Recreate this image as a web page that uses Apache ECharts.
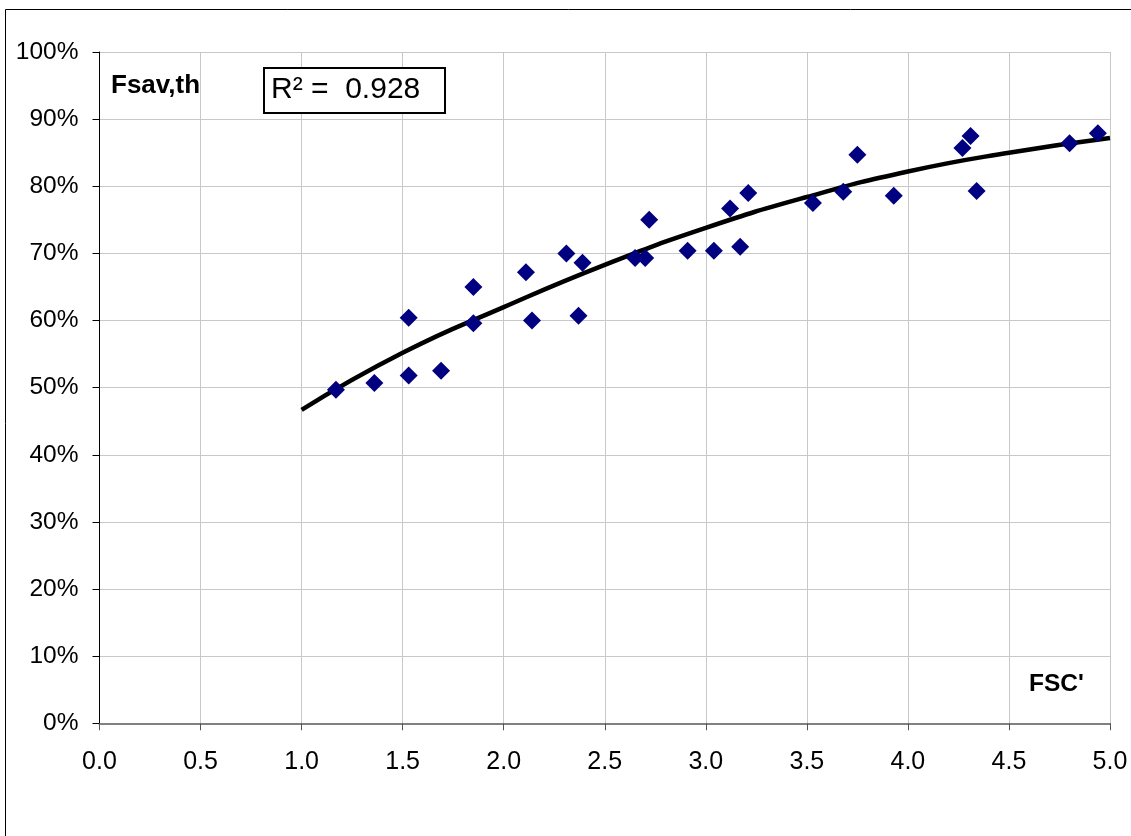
<!DOCTYPE html>
<html>
<head>
<meta charset="utf-8">
<script src="https://cdn.jsdelivr.net/npm/echarts@6/dist/echarts.min.js"></script>
<style>
html,body{margin:0;padding:0;background:#fff;}
#chart{width:1131px;height:836px;}
</style>
</head>
<body>
<div id="chart"></div>
<script>
// Observed data points (FSC', Fsav,th in %)
const fscValues = [1.17,1.36,1.53,1.53,1.69,1.85,1.85,2.11,2.14,2.31,2.37,2.39,2.65,2.70,2.72,2.91,3.04,3.12,3.17,3.21,3.53,3.68,3.75,3.93,4.27,4.31,4.34,4.80,4.94];
const fsavValues = [49.7,50.7,60.4,51.8,52.5,65.0,59.6,67.2,60.0,70.0,60.7,68.6,69.3,69.3,75.0,70.4,70.4,76.7,71.0,79.0,77.5,79.2,84.7,78.6,85.7,87.5,79.3,86.4,87.9];
// Trend line
const trendX = [1.0,1.5,2.0,2.5,3.0,3.5,4.0,4.5,5.0];
const trendY = [46.7,55.2,62.0,68.3,73.8,78.4,82.2,85.0,87.2];
const yAxisLabel = 'Fsav,th';
const xAxisLabel = "FSC'";
const r2Text = 'R\u00B2 =  0.928';

const FONT = '"Liberation Sans", Arial, sans-serif';
const chart = echarts.init(document.getElementById('chart'), null, {renderer:'canvas'});

chart.setOption({
  animation: false,
  backgroundColor: '#fff',
  grid: {left: 99.5, right: 21, top: 52, bottom: 112.7, containLabel: false},
  xAxis: {
    type: 'value', min: 0, max: 5, interval: 0.5,
    axisLine: {show: true, onZero: false, lineStyle: {color: '#808080', width: 2}},
    axisTick: {show: true, length: 7, lineStyle: {color: '#555', width: 1}},
    axisLabel: {color: '#000', fontFamily: FONT, fontSize: 25, margin: 26,
      formatter: v => v.toFixed(1)},
    splitLine: {show: true, lineStyle: {color: '#c8c8c8', width: 1}}
  },
  yAxis: {
    type: 'value', min: 0, max: 100, interval: 10,
    axisLine: {show: true, onZero: false, lineStyle: {color: '#000', width: 1}},
    axisTick: {show: true, length: 7, lineStyle: {color: '#000', width: 1}},
    axisLabel: {color: '#000', fontFamily: FONT, fontSize: 24.5, margin: 21,
      formatter: v => v + '%'},
    splitLine: {show: true, lineStyle: {color: '#c8c8c8', width: 1}}
  },
  series: [
    {
      type: 'line',
      data: trendX.map((x, i) => [x, trendY[i]]),
      smooth: true,
      showSymbol: false,
      lineStyle: {color: '#000', width: 4.5},
      z: 2
    },
    {
      type: 'scatter',
      data: fscValues.map((x, i) => [x, fsavValues[i]]),
      symbol: 'diamond',
      symbolSize: 18,
      itemStyle: {color: '#000080', opacity: 1},
      emphasis: {disabled: true},
      z: 3
    }
  ],
  graphic: [
    {type: 'rect', shape: {x: 5.5, y: 9.5, width: 1300, height: 1000},
     style: {fill: 'none', stroke: '#000', lineWidth: 1}, silent: true, z: 0},
    {type: 'text', left: 111, top: 73,
     style: {text: yAxisLabel, font: 'bold 26px ' + FONT, fill: '#000'}, z: 10},
    {type: 'text', left: 1029, top: 672,
     style: {text: xAxisLabel, font: 'bold 24.5px ' + FONT, fill: '#000'}, z: 10},
    {type: 'rect', shape: {x: 264, y: 68, width: 181, height: 45},
     style: {fill: '#fff', stroke: '#000', lineWidth: 2}, z: 10},
    {type: 'text', left: 271, top: 75,
     style: {text: r2Text, font: '30px ' + FONT, fill: '#000'}, z: 11}
  ]
});
</script>
</body>
</html>
